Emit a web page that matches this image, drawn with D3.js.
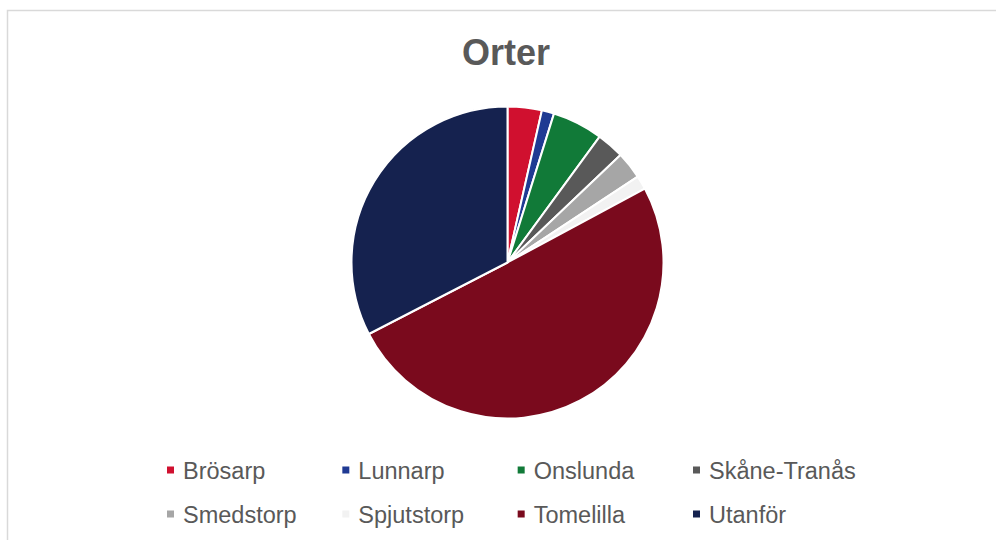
<!DOCTYPE html>
<html>
<head>
<meta charset="utf-8">
<script src="https://cdn.jsdelivr.net/npm/d3@7"></script>
<style>
    body { margin: 0; background: #ffffff; }
    svg { display: block; font-family: Arial, "Liberation Sans", sans-serif; }
</style>
</head>
<body>
<div id="chart"></div>
<script>
// Data
const categories = ["Brösarp", "Lunnarp", "Onslunda", "Skåne-Tranås", "Smedstorp", "Spjutstorp", "Tomelilla", "Utanför"];
const values = [25, 9, 37, 20, 20, 10, 355, 230];
const colors = ["#D0102F", "#1F3A93", "#117A38", "#595959", "#A6A6A6", "#F2F2F2", "#7A0A1D", "#15224F"];
const title = "Orter";

document.addEventListener('DOMContentLoaded', function () {
    const width = 996;
    const height = 540;

    const svg = d3.select("#chart")
        .append("svg")
        .attr("width", width)
        .attr("height", height);

    // chart area border (runs off right and bottom edge)
    svg.append("rect")
        .attr("x", 7.5)
        .attr("y", 10.5)
        .attr("width", 1100)
        .attr("height", 700)
        .attr("fill", "#ffffff")
        .attr("stroke", "#d9d9d9")
        .attr("stroke-width", 1.5);

    // title
    svg.append("text")
        .attr("x", 506)
        .attr("y", 65)
        .attr("text-anchor", "middle")
        .attr("font-size", "36px")
        .attr("font-weight", "bold")
        .attr("fill", "#595959")
        .text(title);

    // pie
    const data = categories.map((c, i) => ({ name: c, value: values[i] }));
    const color = d3.scaleOrdinal().domain(categories).range(colors);

    const pie = d3.pie()
        .sort(null)
        .value(d => d.value);

    const arc = d3.arc()
        .innerRadius(0)
        .outerRadius(156);

    const g = svg.append("g")
        .attr("transform", "translate(507.5,262.5)");

    g.selectAll("path")
        .data(pie(data))
        .enter().append("path")
        .attr("d", arc)
        .attr("fill", d => color(d.data.name))
        .attr("stroke", "white")
        .attr("stroke-width", 2)
        .attr("stroke-linejoin", "round");

    // legend, 4 columns x 2 rows
    const legendX = d3.scalePoint().domain([0, 1, 2, 3]).range([167, 693]);
    const legendY = d3.scalePoint().domain([0, 1]).range([470, 514]);

    const item = svg.selectAll("g.legend")
        .data(categories)
        .enter().append("g")
        .attr("class", "legend")
        .attr("transform", (d, i) => "translate(" + legendX(i % 4) + "," + legendY(Math.floor(i / 4)) + ")");

    item.append("rect")
        .attr("x", 0)
        .attr("y", -3.5)
        .attr("width", 7)
        .attr("height", 7)
        .attr("fill", d => color(d));

    item.append("text")
        .attr("x", 16)
        .attr("y", 8.5)
        .attr("font-size", "23.5px")
        .attr("fill", "#595959")
        .text(d => d);
});
</script>
</body>
</html>
